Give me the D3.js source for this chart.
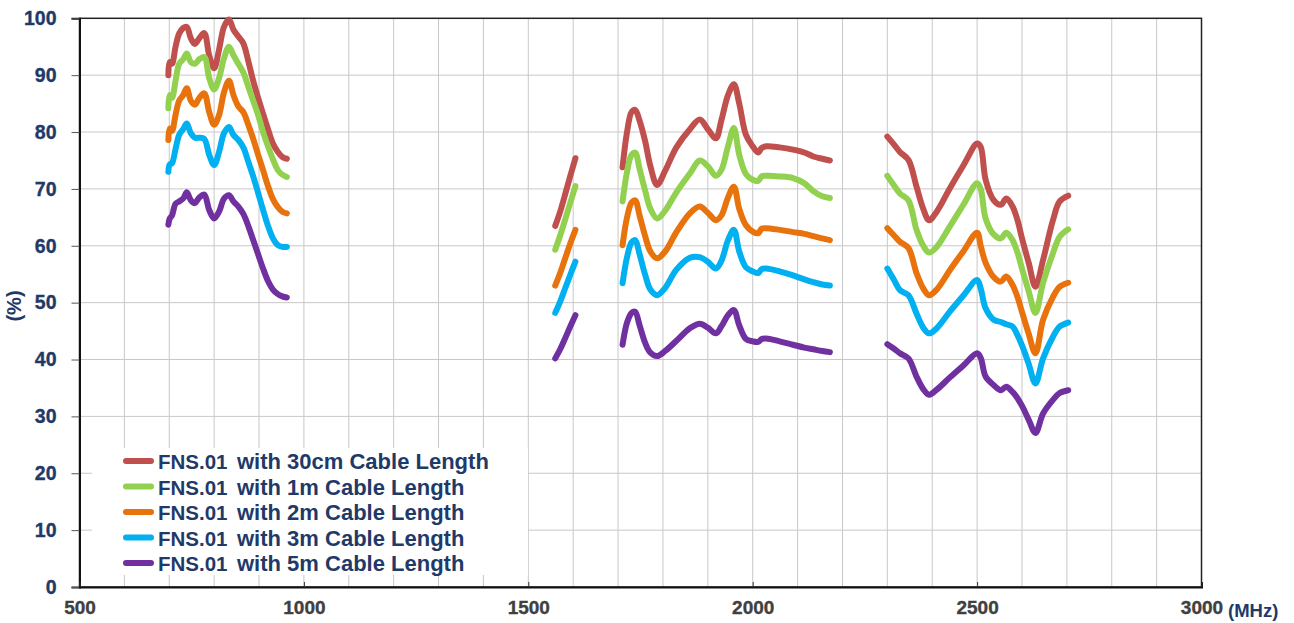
<!DOCTYPE html>
<html>
<head>
<meta charset="utf-8">
<script src="https://cdn.jsdelivr.net/npm/d3@7"></script>
<style>
  body { margin: 0; background: #fff; }
  text { font-family: "Liberation Sans", Arial, sans-serif; font-weight: bold; }
</style>
</head>
<body>
<script>
// frequency samples (MHz) for each of the four measured bands
var band1Freq = [698, 701, 706, 714, 722, 731, 739, 748, 757, 767, 778, 789, 800, 811, 822, 833, 843, 854, 865, 876, 887, 898, 909, 920, 931, 942, 952, 962];
var band2Freq = [1560, 1571, 1583, 1594, 1605];
var band3Freq = [1710, 1720, 1730, 1738, 1748, 1760, 1772, 1787, 1805, 1830, 1860, 1882, 1900, 1918, 1930, 1945, 1958, 1970, 1985, 2000, 2012, 2020, 2030, 2060, 2090, 2115, 2135, 2155, 2172];
var band4Freq = [2300, 2315, 2328, 2347, 2365, 2380, 2393, 2410, 2440, 2470, 2500, 2508, 2519, 2537, 2553, 2565, 2579, 2590, 2601, 2615, 2630, 2647, 2669, 2684, 2703];
var bandFreqs = [band1Freq, band2Freq, band3Freq, band4Freq];

// efficiency (%) per band, one array per cable length
var cable30cm = [
  [90.0, 92.3, 92.0, 95.0, 97.3, 98.3, 98.5, 96.5, 95.5, 96.5, 97.4, 93.5, 91.2, 94.5, 98.5, 99.8, 98.0, 96.8, 95.6, 92.5, 89.0, 86.0, 83.2, 80.5, 78.0, 76.5, 75.6, 75.3],
  [63.5, 66.0, 69.3, 72.4, 75.4],
  [73.8, 80.0, 83.5, 83.9, 82.0, 78.5, 74.0, 70.7, 73.2, 77.3, 80.5, 82.2, 80.5, 78.9, 82.0, 86.5, 88.4, 85.0, 79.5, 77.5, 76.4, 77.2, 77.5, 77.3, 76.9, 76.4, 75.7, 75.3, 75.0],
  [79.2, 77.8, 76.5, 75.1, 70.4, 66.5, 64.5, 66.0, 70.2, 74.2, 78.0, 77.4, 71.6, 68.0, 67.2, 68.3, 66.9, 64.5, 61.0, 57.0, 52.8, 57.5, 64.5, 67.8, 68.8]
];
var cable1m = [
  [84.2, 86.5, 86.0, 89.0, 92.0, 92.8, 93.8, 92.3, 92.0, 92.8, 93.2, 89.5, 87.5, 89.5, 93.0, 95.0, 93.5, 92.0, 90.5, 88.0, 85.5, 83.0, 80.0, 77.5, 75.2, 73.3, 72.5, 72.1],
  [59.3, 61.8, 64.8, 67.7, 70.5],
  [67.8, 73.0, 76.0, 76.4, 73.5, 69.8, 66.5, 64.8, 66.2, 69.4, 72.7, 75.0, 74.0, 72.3, 73.3, 77.5, 80.7, 76.0, 72.6, 71.6, 71.4, 72.2, 72.3, 72.2, 71.9, 71.0, 69.6, 68.7, 68.4],
  [72.3, 70.6, 69.2, 68.0, 62.8, 60.0, 58.8, 59.8, 63.5, 67.3, 71.0, 70.0, 64.8, 62.0, 61.3, 62.3, 61.0, 58.8, 55.7, 52.0, 48.2, 53.5, 58.7, 61.6, 62.9]
];
var cable2m = [
  [78.6, 80.6, 80.2, 83.0, 85.5, 86.5, 87.7, 85.5, 84.8, 86.0, 86.8, 83.5, 81.3, 83.0, 87.0, 89.0, 86.5, 84.5, 83.5, 81.3, 78.8, 76.0, 73.3, 70.5, 68.2, 66.8, 66.0, 65.7],
  [53.0, 55.2, 58.0, 60.5, 62.8],
  [60.1, 65.0, 67.6, 68.0, 65.3, 61.8, 59.0, 57.8, 59.0, 62.4, 65.7, 66.9, 65.8, 64.5, 65.3, 68.5, 70.4, 66.5, 63.6, 62.5, 62.2, 63.0, 63.1, 62.8, 62.4, 62.1, 61.7, 61.3, 61.0],
  [63.1, 61.8, 60.7, 59.6, 55.2, 52.5, 51.3, 52.3, 55.8, 59.1, 62.3, 60.0, 57.0, 54.5, 53.7, 54.6, 53.1, 51.0, 48.1, 44.5, 41.1, 47.0, 51.0, 52.8, 53.5]
];
var cable3m = [
  [73.0, 74.3, 74.5, 77.0, 79.5, 80.5, 81.5, 79.8, 79.0, 79.0, 78.8, 76.0, 74.2, 76.5, 79.8, 80.9, 79.5, 78.6, 77.3, 74.8, 72.2, 69.3, 66.3, 63.5, 61.3, 60.1, 59.8, 59.8],
  [48.2, 50.2, 52.7, 55.0, 57.2],
  [53.4, 58.0, 60.6, 61.0, 58.5, 55.0, 52.3, 51.3, 52.6, 55.8, 57.9, 58.0, 57.2, 56.0, 57.3, 61.0, 62.8, 59.0, 56.2, 55.5, 55.2, 55.9, 56.0, 55.5, 54.8, 54.1, 53.6, 53.2, 53.0],
  [56.0, 54.0, 52.2, 51.3, 48.1, 45.6, 44.6, 45.5, 48.5, 51.3, 54.0, 52.5, 49.0, 47.0, 46.6, 46.2, 45.8, 44.3, 42.3, 39.2, 35.8, 40.2, 44.0, 45.8, 46.5]
];
var cable5m = [
  [63.7, 64.8, 65.3, 67.4, 67.8, 68.3, 69.4, 68.0, 67.5, 68.5, 69.0, 66.3, 64.8, 66.0, 68.3, 68.9, 67.8, 66.9, 65.6, 63.5, 61.0, 58.5, 56.0, 53.8, 52.3, 51.5, 51.1, 50.9],
  [40.2, 41.8, 43.9, 45.9, 47.8],
  [42.6, 46.5, 48.2, 48.4, 46.0, 43.0, 41.2, 40.6, 41.5, 43.3, 45.5, 46.3, 45.6, 44.6, 45.8, 47.8, 48.7, 46.0, 43.6, 43.2, 43.1, 43.6, 43.7, 43.2, 42.6, 42.1, 41.8, 41.5, 41.3],
  [42.7, 41.9, 41.1, 40.2, 37.0, 34.8, 33.8, 34.7, 36.9, 39.0, 41.1, 40.3, 37.0, 35.5, 34.6, 35.2, 34.3, 33.2, 31.7, 29.4, 27.1, 30.5, 32.9, 34.1, 34.6]
];

var seriesPrefix = "FNS.01";
var seriesNames = ["with 30cm Cable Length", "with 1m Cable Length", "with 2m Cable Length", "with 3m Cable Length", "with 5m Cable Length"];
var seriesValues = [cable30cm, cable1m, cable2m, cable3m, cable5m];
var seriesColors = ["#c0504d", "#92d050", "#e8720c", "#00b0f0", "#7030a0"];

var xTicks = [500, 1000, 1500, 2000, 2500, 3000];
var yTicks = [0, 10, 20, 30, 40, 50, 60, 70, 80, 90, 100];

var width = 1294, height = 623;
var navy = "#1f3a68";

var svg = d3.select("body")
  .append("svg")
  .attr("width", width)
  .attr("height", height);

var x = d3.scaleLinear().domain([500, 3000]).range([79.5, 1201.5]);
var y = d3.scaleLinear().domain([0, 100]).range([587, 18.3]);

//gridlines every 100 MHz and every 10 %
var grid = svg.append("g").attr("class", "grid");
grid.selectAll(".vgrid")
  .data(d3.range(600, 3000, 100))
  .enter()
  .append("line")
  .attr("x1", function(d){ return x(d); })
  .attr("x2", function(d){ return x(d); })
  .attr("y1", y(0))
  .attr("y2", y(100))
  .attr("stroke", "#c8c8c8")
  .attr("stroke-width", 1);
grid.selectAll(".hgrid")
  .data(yTicks.slice(1, -1))
  .enter()
  .append("line")
  .attr("x1", x(500))
  .attr("x2", x(3000))
  .attr("y1", function(d){ return y(d); })
  .attr("y2", function(d){ return y(d); })
  .attr("stroke", "#c8c8c8")
  .attr("stroke-width", 1);

//frame
svg.append("rect")
  .attr("x", x(500))
  .attr("y", y(100))
  .attr("width", x(3000) - x(500))
  .attr("height", y(0) - y(100))
  .attr("fill", "none")
  .attr("stroke", "#222")
  .attr("stroke-width", 1.5);

//y axis
var yAxis = svg.append("g")
  .attr("transform", "translate(" + x(500) + ",0)")
  .call(d3.axisLeft(y).tickValues(yTicks).tickSize(8).tickPadding(15));
yAxis.select(".domain").attr("stroke", "#111").attr("stroke-width", 2);
yAxis.selectAll(".tick line").attr("stroke", "#555");
yAxis.selectAll(".tick text")
  .attr("fill", navy)
  .attr("stroke", navy)
  .attr("stroke-width", 0.35)
  .style("font-size", "19.5px")
  .style("font-family", "'Liberation Sans', Arial, sans-serif")
  .style("font-weight", "bold");

//x axis
var xAxis = svg.append("g")
  .attr("transform", "translate(0," + y(0) + ")")
  .call(d3.axisBottom(x).tickValues(xTicks).tickFormat(d3.format("d")).tickSize(-5).tickPadding(14));
xAxis.select(".domain").attr("stroke", "#111").attr("stroke-width", 2);
xAxis.selectAll(".tick line").attr("stroke", "#333");
xAxis.selectAll(".tick text")
  .attr("fill", "#404040")
  .attr("stroke", "#404040")
  .attr("stroke-width", 0.35)
  .style("font-size", "19px")
  .style("font-family", "'Liberation Sans', Arial, sans-serif")
  .style("font-weight", "bold");

//unit labels
svg.append("text")
  .attr("x", 1228)
  .attr("y", 617)
  .attr("fill", navy)
  .style("font-size", "18.5px")
  .text("(MHz)");
svg.append("text")
  .attr("transform", "translate(21,306) rotate(-90)")
  .attr("text-anchor", "middle")
  .attr("fill", navy)
  .style("font-size", "20px")
  .text("(%)");

//series lines, one path per band
var line = d3.line()
  .x(function(d){ return x(d[0]); })
  .y(function(d){ return y(d[1]); })
  .curve(d3.curveCatmullRom.alpha(0.5));

seriesValues.forEach(function(bands, i){
  var g = svg.append("g").attr("class", "series s" + i);
  bands.forEach(function(vals, b){
    var pts = vals.map(function(v, k){ return [bandFreqs[b][k], v]; });
    g.append("path")
      .datum(pts)
      .attr("d", line)
      .attr("fill", "none")
      .attr("stroke", seriesColors[i])
      .attr("stroke-width", 6)
      .attr("stroke-linejoin", "round")
      .attr("stroke-linecap", "round");
  });
});

//legend
var legend = svg.append("g").attr("class", "legend");
legend.append("rect")
  .attr("x", 92)
  .attr("y", 448)
  .attr("width", 436)
  .attr("height", 127)
  .attr("fill", "#fff");
var rows = legend.selectAll(".row")
  .data(seriesNames)
  .enter()
  .append("g")
  .attr("transform", function(d, i){ return "translate(0," + (461 + i * 25.5) + ")"; });
rows.append("line")
  .attr("x1", 126)
  .attr("x2", 151)
  .attr("stroke", function(d, i){ return seriesColors[i]; })
  .attr("stroke-width", 6)
  .attr("stroke-linecap", "round");
var labels = rows.append("text")
  .attr("x", 158)
  .attr("y", 8)
  .attr("fill", navy);
labels.append("tspan")
  .style("font-size", "20.5px")
  .text(seriesPrefix);
labels.append("tspan")
  .attr("x", 237)
  .style("font-size", "22px")
  .text(function(d){ return d; });
</script>
</body>
</html>
